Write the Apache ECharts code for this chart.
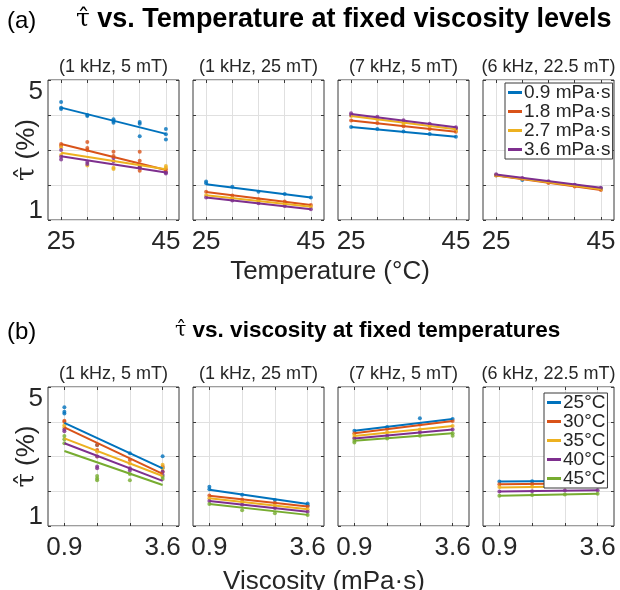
<!DOCTYPE html>
<html>
<head>
<meta charset="utf-8">
<script src="https://cdn.jsdelivr.net/npm/echarts@6/dist/echarts.min.js"></script>
<style>
  html, body { margin: 0; background: #fff; }
  #chart { width: 620px; height: 590px; }
</style>
</head>
<body>
<div id="chart"></div>
<script>
// MATLAB default line colours
const colors = ['#0072BD', '#D95319', '#EDB120', '#7E2F8E', '#77AC30'];
const panelTitles = ['(1 kHz, 5 mT)', '(1 kHz, 25 mT)', '(7 kHz, 5 mT)', '(6 kHz, 22.5 mT)'];

// row (a): x = temperature, one series per viscosity
const temps = [25, 30, 35, 40, 45];
const tempLabels = [25, 45];
const viscNames = ['0.9 mPa·s', '1.8 mPa·s', '2.7 mPa·s', '3.6 mPa·s'];

// row (b): x = viscosity, one series per temperature
const viscs = [0.9, 1.8, 2.7, 3.6];
const viscLabels = [0.9, 3.6];
const tempNames = ['25°C', '30°C', '35°C', '40°C', '45°C'];

// fitted lines: value at first and last x, per series
const fitA1 = [[4.21, 3.46], [3.17, 2.43], [2.92, 2.45], [2.82, 2.36]];
const fitA2 = [[2.02, 1.64], [1.80, 1.43], [1.71, 1.38], [1.64, 1.31]];
const fitA3 = [[3.66, 3.38], [3.84, 3.52], [3.97, 3.59], [4.03, 3.65]];
const fitA4 = [[2.28, 1.90], [2.27, 1.86], [2.28, 1.88], [2.30, 1.92]];

const fitB1 = [[3.97, 2.66], [3.84, 2.50], [3.52, 2.44], [3.38, 2.30], [3.16, 2.18]];
const fitB2 = [[2.04, 1.63], [1.87, 1.56], [1.80, 1.48], [1.72, 1.41], [1.63, 1.32]];
const fitB3 = [[3.74, 4.08], [3.67, 4.02], [3.59, 3.88], [3.52, 3.78], [3.45, 3.67]];
const fitB4 = [[2.28, 2.30], [2.20, 2.23], [2.11, 2.15], [1.99, 2.03], [1.87, 1.93]];

// measured points: per series, per x, list of repeats
const dotsA1 = [
  [[4.37, 4.21, 4.17], [4.0, 3.97], [3.88, 3.83, 3.78], [3.8, 3.75, 3.39], [3.6, 3.45, 3.3]],
  [[3.17, 3.12], [3.23, 3.06, 3.0], [2.95, 2.83], [2.95, 2.69, 2.41], [2.45, 2.38]],
  [[3.08, 2.86], [2.56], [2.49, 2.46], [2.5], [2.54, 2.49]],
  [[3.0, 2.81, 2.73], [2.66, 2.6], [2.77, 2.68], [2.53, 2.49], [2.36, 2.33]]
];
const dotsA2 = [
  [[2.1, 2.05], [1.95], [1.81], [1.74], [1.64]],
  [[1.81], [1.7], [1.59], [1.53], [1.43]],
  [[1.71], [1.62], [1.54], [1.46], [1.38]],
  [[1.64], [1.56], [1.48], [1.4], [1.31]]
];
const dotsA3 = [
  [[3.66], [3.6], [3.53], [3.46], [3.38]],
  [[3.84], [3.77], [3.68], [3.6], [3.52]],
  [[3.97], [3.88], [3.78, 3.72], [3.68], [3.59, 3.55]],
  [[4.05, 4.0], [3.95], [3.85], [3.75], [3.65, 3.62]]
];
const dotsA4 = [
  [[2.28], [2.14], [2.08], [1.99], [1.9]],
  [[2.27], [2.18], [2.06], [1.96], [1.86]],
  [[2.28], [2.18], [2.08], [1.98], [1.88]],
  [[2.31], [2.2], [2.11], [2.01], [1.92]]
];

const dotsB1 = [
  [[4.42, 4.29, 4.24], [3.33], [3.09], [3.01, 2.67]],
  [[4.03, 4.0], [3.33, 3.19], [2.9], [2.71, 2.56]],
  [[3.9, 3.84], [3.14, 3.0], [2.8], [2.76, 2.66]],
  [[3.78, 3.73], [3.0, 2.71, 2.66], [2.66, 2.6], [2.56, 2.47]],
  [[3.59, 3.5, 3.38], [2.44, 2.37, 2.32], [2.5, 2.32], [2.42, 2.35]]
];
const dotsB2 = [
  [[2.13, 2.06], [1.9], [1.75], [1.65, 1.6]],
  [[1.88], [1.76], [1.66], [1.56]],
  [[1.8], [1.69], [1.58], [1.48]],
  [[1.72], [1.61], [1.52], [1.41]],
  [[1.63], [1.45], [1.37], [1.32]]
];
const dotsB3 = [
  [[3.74], [3.85], [4.1], [4.08]],
  [[3.67], [3.8], [3.92], [4.02]],
  [[3.62, 3.55], [3.7], [3.78], [3.88]],
  [[3.52], [3.6], [3.7], [3.78]],
  [[3.45, 3.4], [3.52], [3.6], [3.67, 3.6]]
];
const dotsB4 = [
  [[2.28], [2.29], [2.3], [2.32]],
  [[2.2], [2.21], [2.22], [2.23]],
  [[2.12], [2.13], [2.14], [2.15]],
  [[1.99], [2.0], [2.02], [2.03]],
  [[1.87], [1.89], [1.91], [1.93]]
];

const FONT = '"Liberation Sans", Arial, Helvetica, sans-serif';
const TAU_FONT = '"DejaVu Serif", serif';
const TXT = '#262626';
const EDGE = '#3a3a3a';

const panelLefts = [48, 193, 338, 483];
const panelWidth = 131;
const rows = [
  { top: 80, height: 140, xs: temps, xLabels: tempLabels, min: 22.5, max: 47.5,
    names: viscNames, fits: [fitA1, fitA2, fitA3, fitA4], dots: [dotsA1, dotsA2, dotsA3, dotsA4] },
  { top: 387, height: 139, xs: viscs, xLabels: viscLabels, min: 0.45, max: 4.05,
    names: tempNames, fits: [fitB1, fitB2, fitB3, fitB4], dots: [dotsB1, dotsB2, dotsB3, dotsB4] }
];

const grids = [], xAxes = [], yAxes = [], xTop = [], yRight = [], series = [];

rows.forEach((row, r) => {
  panelLefts.forEach((left, p) => {
    const g = r * 4 + p;
    grids.push({
      left: left, top: row.top, width: panelWidth, height: row.height,
      show: true, borderColor: EDGE, borderWidth: 1,
      outerBoundsMode: 'none'
    });
    xAxes.push({
      gridIndex: g, type: 'value', min: row.min, max: row.max,
      axisLine: { show: false },
      axisTick: { show: true, inside: true, length: 3, customValues: row.xs,
                  lineStyle: { color: EDGE } },
      axisLabel: { customValues: row.xLabels, fontSize: 26, color: TXT, fontFamily: FONT, margin: 9 },
      splitLine: { show: true, lineStyle: { color: '#e0e0e0', width: 1 } }
    });
    // mirrored ticks along the top edge (MATLAB box)
    xTop.push({
      gridIndex: g, type: 'value', position: 'top', min: row.min, max: row.max,
      axisLine: { show: false },
      axisTick: { show: true, inside: true, length: 3, customValues: row.xs,
                  lineStyle: { color: EDGE } },
      axisLabel: { show: false }, splitLine: { show: false }
    });
    yAxes.push({
      gridIndex: g, type: 'value', min: 1, max: 5, interval: 1,
      axisLine: { show: false },
      axisTick: { show: true, inside: true, length: 3, lineStyle: { color: EDGE } },
      axisLabel: {
        show: p === 0, fontSize: 26, color: TXT, fontFamily: FONT, margin: 5,
        formatter: v => v === 5 ? '{hi|5}' : (v === 1 ? '{lo|1}' : ''),
        rich: {
          hi: { fontSize: 26, color: TXT, fontFamily: FONT, padding: [24, 0, 0, 0] },
          lo: { fontSize: 26, color: TXT, fontFamily: FONT, padding: [0, 0, 18, 0] }
        }
      },
      splitLine: { show: true, lineStyle: { color: '#e0e0e0', width: 1 } },
      name: p === 0 ? '{t|τ̂} (%)' : '',
      nameLocation: 'middle', nameRotate: 90, nameGap: 8, nameMoveOverlap: false,
      nameTextStyle: {
        fontSize: 26, color: TXT, fontFamily: FONT,
        rich: { t: { fontSize: 26, color: TXT, fontFamily: TAU_FONT } }
      }
    });
    yRight.push({
      gridIndex: g, type: 'value', position: 'right', min: 1, max: 5, interval: 1,
      axisLine: { show: false },
      axisTick: { show: true, inside: true, length: 3, lineStyle: { color: EDGE } },
      axisLabel: { show: false }, splitLine: { show: false }
    });

    const x0 = row.xs[0], x1 = row.xs[row.xs.length - 1];
    row.names.forEach((name, s) => {
      const pts = [];
      row.dots[p][s].forEach((vals, i) => vals.forEach(v => pts.push([row.xs[i], v])));
      series.push({
        type: 'scatter', name: name + ' data', xAxisIndex: g, yAxisIndex: g,
        data: pts, symbol: 'circle', symbolSize: 4, silent: true,
        itemStyle: { color: colors[s] }
      });
      series.push({
        type: 'line', name: name, xAxisIndex: g, yAxisIndex: g,
        data: [[x0, row.fits[p][s][0]], [x1, row.fits[p][s][1]]],
        showSymbol: false, silent: true, color: colors[s],
        lineStyle: { width: 2, color: colors[s] }
      });
    });
  });
});

const graphics = [];
const titleRich = size => ({
  t: { fontFamily: TAU_FONT, fontWeight: 'normal', fontSize: size - 2, fill: '#000' },
  b: { fontFamily: FONT, fontWeight: 'bold', fontSize: size, fill: '#000' }
});
graphics.push({ type: 'text', left: 7, top: 9, style: { text: '(a)', font: '24px ' + FONT, fill: '#000' } });
graphics.push({ type: 'text', left: 7, top: 320, style: { text: '(b)', font: '24px ' + FONT, fill: '#000' } });
graphics.push({ type: 'text', left: 76, top: 6,
  style: { text: '{t|τ̂}{b| vs. Temperature at fixed viscosity levels}', rich: titleRich(27) } });
graphics.push({ type: 'text', left: 175, top: 319,
  style: { text: '{t|τ̂}{b| vs. viscosity at fixed temperatures}', rich: titleRich(22.5) } });
rows.forEach(row => {
  panelLefts.forEach((left, p) => {
    graphics.push({ type: 'text', x: left + panelWidth / 2, y: row.top - 13,
      style: { text: panelTitles[p], font: '18px ' + FONT, fill: TXT, align: 'center', verticalAlign: 'middle' } });
  });
});
graphics.push({ type: 'text', x: 330, y: 272,
  style: { text: 'Temperature (°C)', font: '26px ' + FONT, fill: TXT, align: 'center', verticalAlign: 'middle' } });
graphics.push({ type: 'text', x: 324, y: 582,
  style: { text: 'Viscosity (mPa·s)', font: '26px ' + FONT, fill: TXT, align: 'center', verticalAlign: 'middle' } });

const legendBase = {
  orient: 'vertical', icon: 'rect', itemWidth: 14, itemHeight: 3, itemGap: 0,
  backgroundColor: '#fff', borderColor: EDGE, borderWidth: 1,
  selectedMode: false
};

const chart = echarts.init(document.getElementById('chart'), null, { renderer: 'canvas' });
chart.setOption({
  animation: false,
  grid: grids,
  xAxis: xAxes.concat(xTop),
  yAxis: yAxes.concat(yRight),
  legend: [
    Object.assign({}, legendBase, {
      data: viscNames, left: 505, top: 83, padding: [0, 2, 0, 3],
      textStyle: { fontSize: 19, lineHeight: 18.7, color: TXT, fontFamily: FONT, padding: [0, 0, 0, -3] }
    }),
    Object.assign({}, legendBase, {
      data: tempNames, left: 544, top: 393, padding: [0, 2, 0, 3],
      textStyle: { fontSize: 19, lineHeight: 15.2, color: TXT, fontFamily: FONT, padding: [0, 0, 0, -3] }
    })
  ],
  graphic: graphics,
  series: series
});
</script>
</body>
</html>
